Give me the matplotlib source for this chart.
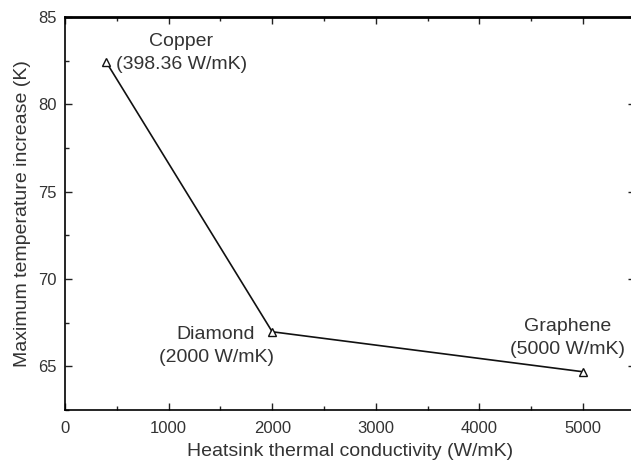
import matplotlib
matplotlib.use("Agg")
import matplotlib.pyplot as plt
from matplotlib.ticker import MultipleLocator

conductivity = [398.36, 2000, 5000]
temp_increase = [82.42, 66.98, 64.69]
names = ["Copper\n(398.36 W/mK)", "Diamond\n(2000 W/mK)", "Graphene\n(5000 W/mK)"]

plt.rcParams['font.family'] = ['Liberation Sans', 'DejaVu Sans']

fig = plt.figure(figsize=(6.31, 4.61), dpi=100)
ax = fig.add_axes([0.103, 0.1106, 0.903, 0.8525])
ax.plot(conductivity, temp_increase, color='#111111', lw=1.2, marker='^',
        markersize=6, markerfacecolor='white', markeredgecolor='#111111', markeredgewidth=1.0)

ax.set_xlim(0, 5500)
ax.set_ylim(62.5, 85)
ax.xaxis.set_major_locator(MultipleLocator(1000))
ax.xaxis.set_minor_locator(MultipleLocator(500))
ax.yaxis.set_major_locator(MultipleLocator(5))
ax.yaxis.set_minor_locator(MultipleLocator(2.5))
ax.tick_params(which='both', direction='in', top=True, right=True, labelsize=12,
               colors='#222222', labelcolor='#333333')
ax.tick_params(which='major', length=5, width=1)
ax.tick_params(which='minor', length=3, width=1)
ax.tick_params(axis='x', pad=8)
ax.tick_params(axis='y', pad=6)
ax.spines['top'].set_linewidth(2)
for s in ['left', 'bottom', 'right']:
    ax.spines[s].set_linewidth(1.2)

ax.set_xlabel("Heatsink thermal conductivity (W/mK)", fontsize=14, color='#333333', labelpad=5)
ax.set_ylabel("Maximum temperature increase (K)", fontsize=14, color='#333333', labelpad=5)

tk = dict(textcoords='offset points', fontsize=14, multialignment='center',
          color='#333333', linespacing=1.45)
ax.annotate(names[0], (conductivity[0], temp_increase[0]), xytext=(7, -8),
            ha='left', va='bottom', **tk)
ax.annotate(names[1], (conductivity[1], temp_increase[1]), xytext=(1, 4),
            ha='right', va='top', **tk)
ax.annotate(names[2], (conductivity[2], temp_increase[2]), xytext=(-11, 10),
            ha='center', va='bottom', **tk)

fig.savefig("out.png", dpi=100)
